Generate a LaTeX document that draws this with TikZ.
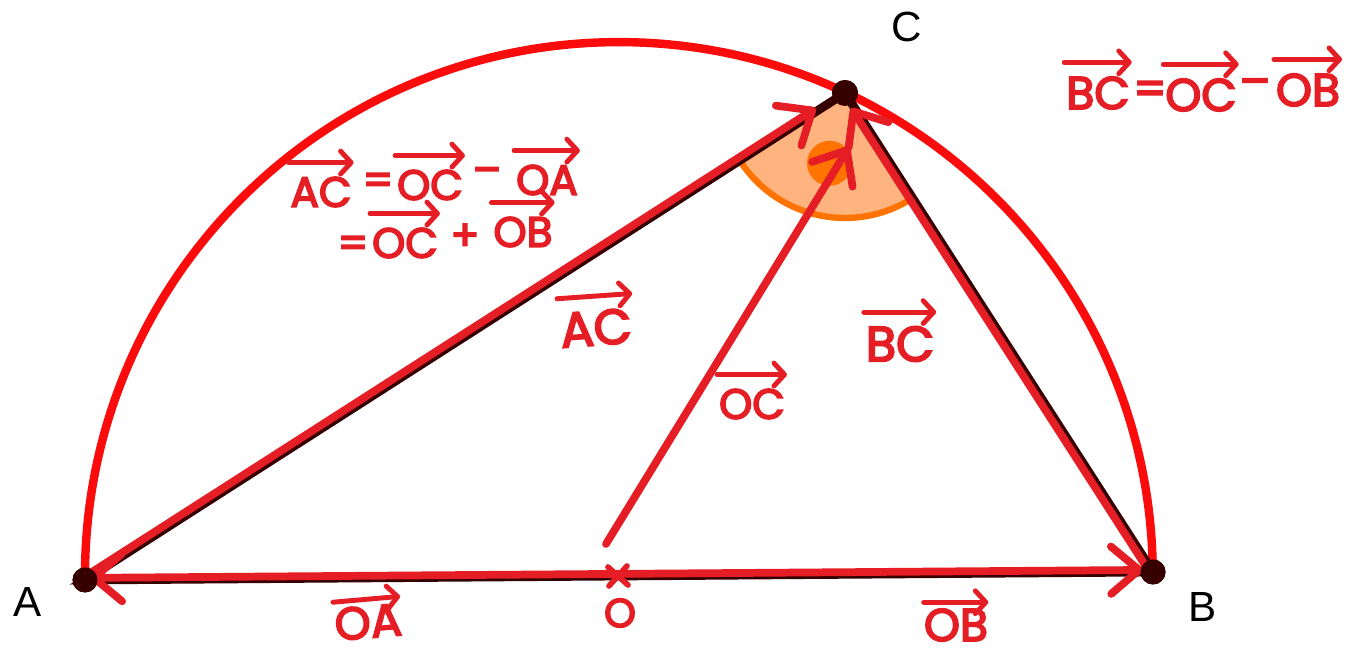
\documentclass[tikz,border=0pt]{standalone}
\usepackage{fontspec}
\setmainfont{Liberation Sans}
\newfontfamily\hand[FakeBold=4]{Poppins}
\usetikzlibrary{arrows.meta}
\definecolor{penred}{RGB}{228,30,36}
\definecolor{arcred}{RGB}{250,12,12}
\definecolor{darkline}{RGB}{55,0,0}
\definecolor{peach}{RGB}{255,180,128}
\definecolor{orng}{RGB}{255,115,0}
\begin{document}
\begin{tikzpicture}[x=0.02cm,y=0.02cm,
  darkpen/.style={draw=darkline,line width=5pt,line cap=round},
  pen/.style={draw=penred,line width=4.4pt,line cap=round},
  penarrow/.style={pen,-{Straight Barb[length=16pt,width=27pt,round]}},
  varrow/.style={draw=penred,line width=2.8pt,line cap=round,-{Straight Barb[length=6pt,width=13pt,round]}},
  dotnode/.style={circle,fill=darkline,inner sep=0pt,minimum size=0.5cm},
  hw/.style={text=penred,inner sep=1pt,font=\hand\fontsize{24}{28}\selectfont},
  hwmid/.style={hw,font=\hand\fontsize{26}{30}\selectfont},
  hwbig/.style={hw,font=\hand\fontsize{28}{32}\selectfont},
  vec/.style={append after command={([yshift=7pt]\tikzlastnode.north west) edge[varrow] ([yshift=7pt]\tikzlastnode.north east)}},
  veclow/.style={append after command={([yshift=3.5pt]\tikzlastnode.north west) edge[varrow] ([yshift=3.5pt]\tikzlastnode.north east)}},
  ptlabel/.style={text=black,font=\fontsize{24}{28}\selectfont},
  arcline/.style={draw=arcred,line width=4.8pt}]
\useasboundingbox[fill=white] (0,0) rectangle (1347,650);
% points
\coordinate (K) at (619,74);
\coordinate (O) at (618,74);
\coordinate (ocs) at (606,106);
\coordinate (oct) at (849,503);
% semicircle
\draw[arcline] (K) ++(180:534) arc[start angle=180,end angle=0,radius=10.68cm];
% dots
\node[dotnode] (A) at (85,70) {};
\node[dotnode] (B) at (1153,78) {};
\node[dotnode,minimum size=0.52cm] (C) at (845,557) {};
% angle marker at C
\fill[peach] (C.center) -- ++(212.6:2.5cm) arc[start angle=212.6,end angle=302.7,radius=2.5cm] -- cycle;
\draw[orng,line width=3.6pt] (C.center) ++(212.6:2.5cm) arc[start angle=212.6,end angle=302.7,radius=2.5cm];
\fill[orng] (C.center) ++(257.6:1.44cm) circle (0.45cm);
% dark triangle
\draw[darkpen] (A.center) -- (C.center) -- (B.center) -- cycle;
% red vectors
\begin{scope}[transform canvas={yshift=2pt}]
\draw[penarrow,shorten >=0.7cm] (A.center) -- (C.center);
\end{scope}
\begin{scope}[transform canvas={xshift=-2pt}]
\draw[penarrow,shorten >=0.36cm] (B.center) -- (C.center);
\end{scope}
\begin{scope}[transform canvas={yshift=1.2pt}]
\draw[penarrow,shorten >=0.1cm] (O) -- (A.center);
\draw[penarrow,shorten >=0.2cm] (O) -- (B.center);
\end{scope}
\draw[penarrow] (ocs) -- (oct);
% cross at O
\draw[pen,line width=3.2pt] ([shift={(-10,9)}]O) -- ([shift={(10,-9)}]O);
\draw[pen,line width=3.2pt] ([shift={(-9,-10)}]O) -- ([shift={(9,10)}]O);
% redraw dots on top
\node[dotnode] at (A.center) {};
\node[dotnode] at (B.center) {};
\node[dotnode,minimum size=0.52cm] at (C.center) {};
% point labels
\node[ptlabel] (Alab) at (28,48) {A};
\node[ptlabel] (Blab) at (1203,43) {B};
\node[ptlabel] (Clab) at (907,623) {C};
\node[hw,font=\hand\fontsize{23}{26}\selectfont] (Olab) at (620,37) {O};
% equation AC = OC - OA = OC + OB
\node[hw,vec] (eAC) at (321,458) {AC};
\node[hw] (eq1) at (378,466) {=};
\node[hw,vec] (eOC1) at (430,465) {OC};
\node[hw] (mi1) at (487,474) {–};
\node[hw,vec] (eOA) at (547,470) {OA};
\node[hw] (eq2) at (353,403) {=};
\node[hw,vec] (eOC2) at (405,407) {OC};
\node[hw] (pl1) at (465,413) {+};
\node[hw,vec] (eOB) at (523,418) {OB};
% equation BC = OC - OB
\node[hwmid,vec] (tBC) at (1098,557) {BC};
\node[hwmid] (eq3) at (1150,557) {=};
\node[hwmid,vec] (tOC) at (1201,555) {OC};
\node[hwmid] (mi2) at (1255,562) {–};
\node[hwmid,vec] (tOB) at (1308,560) {OB};
% vector labels
\node[hwbig,vec,rotate=4] (lAC) at (596,322) {AC};
\node[hw,vec] (lOC) at (752,246) {OC};
\node[hwbig,vec] (lBC) at (900,306) {BC};
\node[hwmid,veclow,rotate=5,inner sep=0pt] (lOA) at (368,28) {OA};
\node[hwmid,veclow,inner sep=0pt] (lOB) at (956,25) {OB};
\end{tikzpicture}
\end{document}
